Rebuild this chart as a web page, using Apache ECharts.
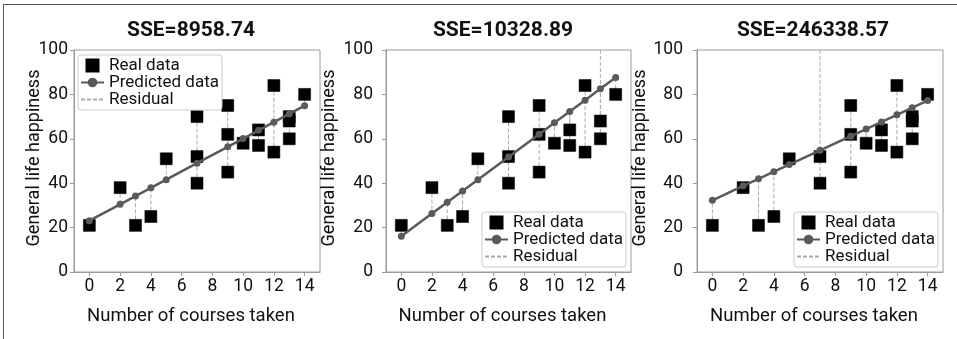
<!DOCTYPE html>
<html>
<head>
<meta charset="utf-8">
<script src="https://cdn.jsdelivr.net/npm/echarts@6/dist/echarts.min.js"></script>
<style>
  html, body { margin: 0; padding: 0; background: #fff; }
  #chart { width: 957px; height: 339px; }
</style>
</head>
<body>
<div id="chart"></div>
<script>
// Courses taken by each student and the happiness score they reported
const courses = [13, 4, 12, 3, 14, 13, 12, 9, 11, 7, 13, 11, 9, 2, 5, 7, 10, 0, 9, 7];
const happinessA = [70, 25, 54, 21, 80, 68, 84, 62, 57, 40, 60, 64, 45, 38, 51, 52, 58, 21, 75, 70];
// Same survey with one extreme answer swapped in (first student, then last student)
const happinessB = [170, 25, 54, 21, 80, 68, 84, 62, 57, 40, 60, 64, 45, 38, 51, 52, 58, 21, 75, 70];
const happinessC = [70, 25, 54, 21, 80, 68, 84, 62, 57, 40, 60, 64, 45, 38, 51, 52, 58, 21, 75, 170];

// Model predictions at each distinct course count
const predX = [0, 2, 3, 4, 5, 7, 9, 10, 11, 12, 13, 14];
const predA = [23.1, 30.5, 34.2, 37.9, 41.6, 49.0, 56.4, 60.1, 63.8, 67.5, 71.2, 74.9];
const predB = [16.1, 26.3, 31.4, 36.5, 41.6, 51.8, 62.0, 67.2, 72.3, 77.4, 82.5, 87.6];
const predC = [32.3, 38.8, 42.0, 45.2, 48.4, 54.8, 61.2, 64.4, 67.6, 70.8, 74.0, 77.2];

const titles = ['SSE=8958.74', 'SSE=10328.89', 'SSE=246338.57'];
const xTicks = [0, 2, 4, 6, 8, 10, 12, 14];

const FONT = 'Roboto, "Liberation Sans", sans-serif';
const SPINE = '#9a9a9a';
const INK = '#111';

const panels = [
  { y: happinessA, pred: predA, grid: { left: 74, top: 50, width: 246, height: 222 },
    titleX: 191, labelMargin: 6, nameGap: 31, legend: { left: 78, top: 55 } },
  { y: happinessB, pred: predB, grid: { left: 386, top: 50, width: 245, height: 222 },
    titleX: 503, labelMargin: 13, nameGap: 48, legend: { left: 482, top: 212 } },
  { y: happinessC, pred: predC, grid: { left: 697, top: 50, width: 246, height: 222 },
    titleX: 813, labelMargin: 14, nameGap: 48, legend: { left: 794, top: 212 } }
];

const chart = echarts.init(document.getElementById('chart'), null, { renderer: 'canvas' });

const option = {
  animation: false,
  backgroundColor: '#fff',
  textStyle: { fontFamily: FONT },
  title: [],
  grid: [],
  xAxis: [],
  yAxis: [],
  legend: [],
  series: [],
  graphic: [
    // figure frame (top and left edges)
    { type: 'line', shape: { x1: 3, y1: 4.5, x2: 957, y2: 4.5 }, style: { stroke: '#555', lineWidth: 1 } },
    { type: 'line', shape: { x1: 3.5, y1: 4, x2: 3.5, y2: 339 }, style: { stroke: '#555', lineWidth: 1 } }
  ]
};

panels.forEach((p, i) => {
  option.title.push({
    text: titles[i], left: p.titleX, top: 20, textAlign: 'center', padding: 0,
    textStyle: { fontFamily: FONT, fontSize: 21, fontWeight: 'bold', color: INK }
  });
  option.grid.push(Object.assign({ show: true, borderColor: SPINE, borderWidth: 1, containLabel: false }, p.grid));
  option.xAxis.push({
    type: 'value', gridIndex: i, min: -1, max: 15,
    name: 'Number of courses taken', nameLocation: 'middle', nameGap: 35, nameMoveOverlap: false,
    nameTextStyle: { fontFamily: FONT, fontSize: 18.5, color: INK, padding: [0, 12, 0, 0] },
    axisLine: { show: true, onZero: false, lineStyle: { color: SPINE } },
    axisTick: { show: true, length: 4, lineStyle: { color: SPINE }, customValues: xTicks },
    axisLabel: { fontFamily: FONT, fontSize: 17.5, color: INK, margin: 6, customValues: xTicks },
    splitLine: { show: false }
  });
  option.yAxis.push({
    type: 'value', gridIndex: i, min: 0, max: 100, interval: 20,
    name: 'General life happiness', nameLocation: 'middle', nameGap: p.nameGap, nameRotate: 90,
    nameMoveOverlap: false,
    nameTextStyle: { fontFamily: FONT, fontSize: 18, color: INK, padding: [0, 0, 0, 6] },
    axisLine: { show: true, onZero: false, lineStyle: { color: SPINE } },
    axisTick: { show: true, length: 4, lineStyle: { color: SPINE } },
    axisLabel: { fontFamily: FONT, fontSize: 17.5, color: INK, margin: p.labelMargin },
    splitLine: { show: false }
  });
  option.legend.push({
    left: p.legend.left, top: p.legend.top, orient: 'vertical',
    data: [
      { name: 'Real data', icon: 'path://M0 0H10V10H0Z' },
      { name: 'Predicted data' },
      { name: 'Residual', itemStyle: { opacity: 0 } }
    ],
    itemWidth: 23, itemHeight: 12, itemGap: 0,
    padding: [2, 3, 2, 2],
    backgroundColor: 'rgba(255,255,255,0.85)', borderColor: '#cccccc', borderWidth: 1, borderRadius: 3,
    textStyle: { fontFamily: FONT, fontSize: 17, color: INK, lineHeight: 17 },
    selectedMode: false
  });

  // dashed residual segments from each observation to its prediction
  const residData = courses.map((c, k) => [c, p.y[k], p.pred[predX.indexOf(c)]]);
  option.series.push({
    type: 'custom', name: 'ResidualSegments', xAxisIndex: i, yAxisIndex: i,
    data: residData, encode: { x: 0, y: 1 }, z: 1, silent: true,
    renderItem: function (params, api) {
      const x = api.value(0), y = api.value(1), yh = api.value(2);
      const a = api.coord([x, y]), b = api.coord([x, yh]);
      const cs = params.coordSys;
      const clamp = v => Math.max(cs.y, Math.min(cs.y + cs.height, v));
      return {
        type: 'line',
        shape: { x1: a[0], y1: clamp(a[1]), x2: b[0], y2: clamp(b[1]) },
        style: { stroke: '#aaaaaa', lineWidth: 1, lineDash: [4, 2] }
      };
    }
  });
  // legend entry for the residual lines
  option.series.push({
    type: 'line', name: 'Residual', xAxisIndex: i, yAxisIndex: i, data: [],
    showSymbol: false, symbol: 'none',
    lineStyle: { color: '#aaaaaa', width: 1, type: [4, 2] }, itemStyle: { color: '#aaaaaa' }
  });
  option.series.push({
    type: 'scatter', name: 'Real data', xAxisIndex: i, yAxisIndex: i, z: 3, clip: true,
    data: courses.map((c, k) => [c, p.y[k]]),
    symbol: 'rect', symbolSize: 12,
    itemStyle: { color: '#000', borderColor: '#000', borderWidth: 0.5, opacity: 1 }
  });
  option.series.push({
    type: 'line', name: 'Predicted data', xAxisIndex: i, yAxisIndex: i, z: 4,
    data: predX.map((x, k) => [x, p.pred[k]]),
    symbol: 'circle', symbolSize: 7, showAllSymbol: true,
    lineStyle: { color: '#5a5a5a', width: 2.5 }, itemStyle: { color: '#5a5a5a' }
  });
});

chart.setOption(option);
</script>
</body>
</html>
